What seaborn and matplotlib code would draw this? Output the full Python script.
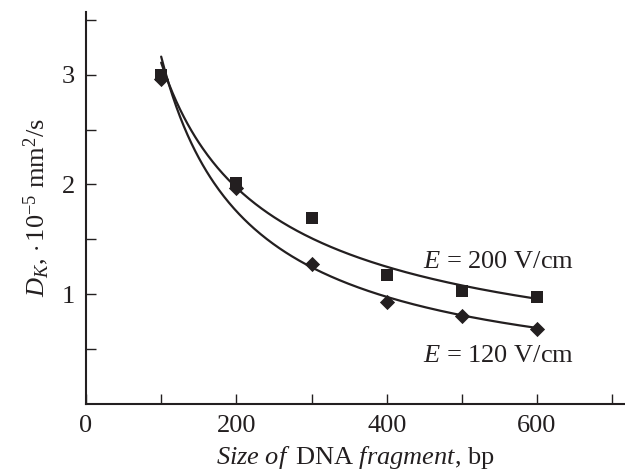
import numpy as np
import pandas as pd
import matplotlib
matplotlib.use("Agg")
import matplotlib.pyplot as plt
import seaborn as sns

# DNA fragment size (bp) and measured diffusion coefficients (10^-5 mm^2/s)
fragment_bp = [100, 200, 300, 400, 500, 600]
d_200 = [3.00, 2.01, 1.69, 1.17, 1.03, 0.97]   # E = 200 V/cm
d_120 = [2.96, 1.97, 1.27, 0.93, 0.80, 0.68]   # E = 120 V/cm

x_ticks = [0, 200, 400, 600]
y_ticks = [1, 2, 3]

INK = "#231f20"
FS = 19

sns.set_theme(style="ticks")
plt.rcParams.update({
    "font.family": ["Liberation Serif", "DejaVu Serif"],
    "mathtext.fontset": "custom",
    "mathtext.rm": "Liberation Serif",
    "mathtext.it": "Liberation Serif:italic",
    "mathtext.bf": "Liberation Serif:bold",
    "text.color": INK,
    "axes.labelcolor": INK,
    "xtick.color": INK,
    "ytick.color": INK,
})

df = pd.DataFrame({
    "bp": fragment_bp * 2,
    "D": d_200 + d_120,
    "field": ["200"] * len(fragment_bp) + ["120"] * len(fragment_bp),
})

# power-law fits D = a * bp^b, computed in log-log space
fits = []
for name, vals in (("200", d_200), ("120", d_120)):
    b, ln_a = np.polyfit(np.log(fragment_bp), np.log(vals), 1)
    xs = np.linspace(min(fragment_bp), max(fragment_bp), 300)
    fits.append(pd.DataFrame({"bp": xs, "D": np.exp(ln_a) * xs ** b, "field": name}))
fit_df = pd.concat(fits, ignore_index=True)

fig = plt.figure(figsize=(6.25, 4.72), dpi=100)
ax = fig.add_axes([0.1376, 0.1449, 1.0 - 0.1376, 0.9746 - 0.1449])

sns.lineplot(data=fit_df, x="bp", y="D", units="field", estimator=None,
             color=INK, linewidth=1.6, ax=ax, legend=False)
sns.scatterplot(data=df[df.field == "200"], x="bp", y="D", marker="s",
                s=85, color=INK, edgecolor=INK, linewidth=0, ax=ax, legend=False, zorder=3)
sns.scatterplot(data=df[df.field == "120"], x="bp", y="D", marker="D",
                s=60, color=INK, edgecolor=INK, linewidth=0, ax=ax, legend=False, zorder=3)

ax.set_xlim(0, 717)
ax.set_ylim(0, 3.573)
ax.set_xticks(x_ticks)
ax.set_xticks([100, 300, 500, 700], minor=True)
ax.set_yticks(y_ticks)
ax.set_yticks([0.5, 1.5, 2.5, 3.5], minor=True)
ax.set_xticklabels([str(t) for t in x_ticks])
ax.set_yticklabels([str(t) for t in y_ticks])

for which in ("major", "minor"):
    ax.tick_params(axis="both", which=which, direction="in", length=7.2,
                   width=1.0, color=INK)
ax.tick_params(axis="x", which="major", labelsize=FS, pad=8)
ax.tick_params(axis="y", which="major", labelsize=FS, pad=8)

sns.despine(ax=ax)
for side in ("left", "bottom"):
    ax.spines[side].set_linewidth(1.5)
    ax.spines[side].set_color(INK)

ax.set_xlabel(r"$\mathit{Size\ of}\,$ DNA $\mathit{fragment}$, bp", fontsize=FS, labelpad=5)
ax.set_ylabel(r"$D_K$, $\cdot\,10^{-5}$ mm$^2$/s", fontsize=FS, labelpad=8)

ax.text(548, 1.29, r"$E$ = 200 V/cm", fontsize=FS, ha="center", va="center")
ax.text(548, 0.43, r"$E$ = 120 V/cm", fontsize=FS, ha="center", va="center")

fig.savefig("out.png", dpi=100)
